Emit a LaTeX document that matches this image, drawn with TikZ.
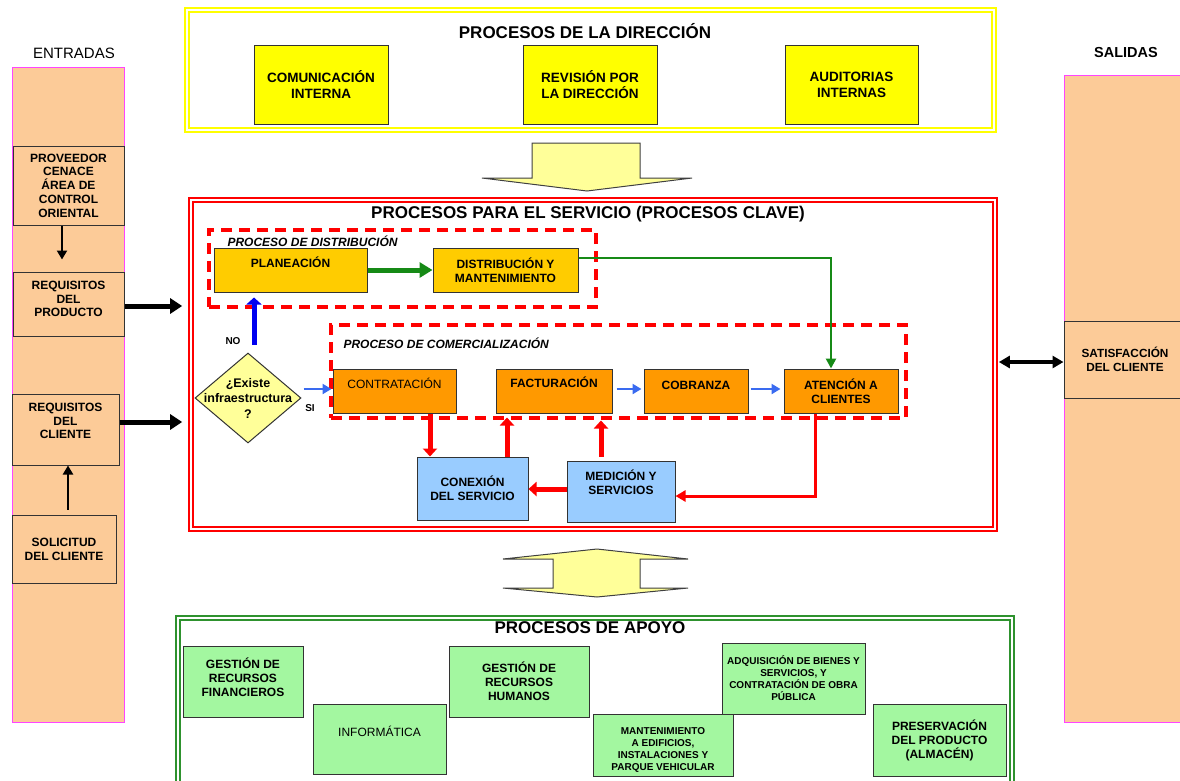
\documentclass[tikz,border=0pt]{standalone}
\usepackage{fontspec}
\setmainfont{Liberation Sans}
\usetikzlibrary{arrows.meta,shapes.geometric,calc}
\definecolor{peach}{HTML}{FCCB98}
\definecolor{pinkline}{HTML}{FF44FF}
\definecolor{ylw}{HTML}{FFFF00}
\definecolor{lylw}{HTML}{FFFF99}
\definecolor{gold}{HTML}{FFCC00}
\definecolor{orng}{HTML}{FF9900}
\definecolor{lblue}{HTML}{99CCFF}
\definecolor{lgreen}{HTML}{A3F7A0}
\definecolor{fgreen}{HTML}{2E922E}
\definecolor{agreen}{HTML}{168A16}
\definecolor{ablue}{HTML}{3A6BF0}
\definecolor{dblue}{HTML}{0000F0}
\definecolor{rred}{HTML}{FF0000}
\newcommand{\myfs}[2]{\fontsize{#1}{#2}\selectfont}
\begin{document}
\begin{tikzpicture}[x=1pt,y=-1pt,
  box/.style={rectangle, draw=black!80, line width=1pt, inner sep=0pt, align=center, text=black},
  frame/.style={rectangle, line width=1.7pt, double=white, double distance=2pt, inner sep=0pt},
  dashbox/.style={rectangle, draw=rred, line width=3.5pt, dash pattern=on 11pt off 7pt, inner sep=0pt},
  ttl/.style={font=\bfseries\myfs{17}{20}},
  tb/.style={font=\bfseries\myfs{13.5}{16}, align=center},
  te/.style={font=\bfseries\myfs{12}{13.8}, align=center},
  ts/.style={font=\bfseries\myfs{12}{14}, align=center},
  tr/.style={font=\myfs{12}{14}, align=center},
  tsm/.style={font=\bfseries\myfs{10}{12}, align=center},
  itl/.style={font=\bfseries\itshape\myfs{12}{14}, anchor=west},
  karr/.style={line width=5pt, -{Triangle[length=12pt,width=15pt]}},
  kthin/.style={line width=2.5pt, -{Triangle[length=9pt,width=10pt]}},
  kdbl/.style={line width=3.5pt, {Triangle[length=11pt,width=12pt]}-{Triangle[length=11pt,width=12pt]}},
  gthick/.style={agreen, line width=5pt, -{Triangle[length=13pt,width=15pt]}},
  gthin/.style={agreen, line width=2.8pt, -{Triangle[length=10pt,width=10pt]}},
  bthick/.style={dblue, line width=5pt, -{Triangle[length=7pt,width=15pt]}},
  barrow/.style={ablue, line width=2.5pt, -{Triangle[length=9pt,width=10pt]}},
  rarr/.style={rred, line width=5pt, -{Triangle[length=8pt,width=14pt]}},
  rarr2/.style={rred, line width=3pt, -{Triangle[length=10pt,width=11pt]}},
  blk/.style={draw=black!75, line width=1pt, fill=lylw, line join=miter}
]
\useasboundingbox (0,0) rectangle (1180,780);

% ---------- ENTRADAS ----------
\node[font=\myfs{15}{17}] (entl) at (74,53) {ENTRADAS};
\node[rectangle, draw=pinkline, line width=1pt, fill=peach, minimum width=112pt, minimum height=655pt] (entcol) at (68,394.5) {};
\node[box, fill=peach, te, minimum width=111pt, minimum height=79pt] (prov) at (68.5,185.5) {PROVEEDOR\\CENACE\\ÁREA DE\\CONTROL\\ORIENTAL};
\node[box, fill=peach, minimum width=111pt, minimum height=64pt] (reqp) at (68.5,304) {};
\node[te] (reqpT) at ($(reqp)+(0,-5)$) {REQUISITOS\\DEL\\PRODUCTO};
\node[box, fill=peach, minimum width=107pt, minimum height=71pt] (reqc) at (65.5,429.5) {};
\node[te] (reqcT) at ($(reqc)+(0,-8.5)$) {REQUISITOS\\DEL\\CLIENTE};
\node[box, fill=peach, te, minimum width=104pt, minimum height=68pt] (sol) at (64,549) {SOLICITUD\\DEL CLIENTE};

% ---------- SALIDAS ----------
\node[font=\bfseries\myfs{14.5}{17}] (sall) at (1126,53) {SALIDAS};
\node[rectangle, draw=pinkline, line width=1pt, fill=peach, minimum width=122pt, minimum height=647pt] (salcol) at (1125,398.5) {};
\node[box, fill=peach, font=\bfseries\myfs{11.8}{13.5}, minimum width=122pt, minimum height=77pt] (sat) at (1125,359.5) {SATISFACCIÓN\\DEL CLIENTE};

% ---------- DIRECCION ----------
\node[frame, draw=ylw, minimum width=807pt, minimum height=120pt] (dirF) at (590.5,70) {};
\node[ttl] (dirT) at (585,31) {PROCESOS DE LA DIRECCIÓN};
\node[box, fill=ylw, tb, minimum width=134pt, minimum height=79pt] (com) at (321,84.5) {COMUNICACIÓN\\INTERNA};
\node[box, fill=ylw, tb, minimum width=134pt, minimum height=79pt] (rev) at (590,84.5) {REVISIÓN POR\\LA DIRECCIÓN};
\node[box, fill=ylw, tb, minimum width=133pt, minimum height=79pt] (aud) at (851.5,84.5) {AUDITORIAS\\INTERNAS};

\draw[blk] (532,143) -- (640,143) -- (640,178) -- (692,178) -- (587,191) -- (482,178) -- (532,178) -- cycle;

% ---------- SERVICIO ----------
\node[frame, draw=rred, minimum width=804pt, minimum height=329pt] (svc) at (593,364.5) {};
\node[ttl] (svcT) at (588,214) {PROCESOS PARA EL SERVICIO (PROCESOS CLAVE)};

\node[dashbox, minimum width=387pt, minimum height=77pt] (distD) at (402.5,268.5) {};
\node[itl] (distL) at (224,241) {PROCESO DE DISTRIBUCIÓN};
\node[box, fill=gold, minimum width=153pt, minimum height=44pt] (plan) at (290.5,270) {};
\node[ts] (planT) at (290.5,262) {PLANEACIÓN};
\node[box, fill=gold, ts, minimum width=145pt, minimum height=44pt] (dist) at (505.5,270) {DISTRIBUCIÓN Y\\MANTENIMIENTO};

\node[dashbox, minimum width=575pt, minimum height=93pt] (comD) at (618.5,371.5) {};
\node[itl] (comL) at (340,343) {PROCESO DE COMERCIALIZACIÓN};
\node[box, fill=orng, minimum width=123pt, minimum height=44pt] (contr) at (394.5,391) {};
\node[tr] (contrT) at (394.5,383) {CONTRATACIÓN};
\node[box, fill=orng, minimum width=116pt, minimum height=44pt] (fact) at (554,391) {};
\node[ts] (factT) at (554,382) {FACTURACIÓN};
\node[box, fill=orng, minimum width=104pt, minimum height=44pt] (cob) at (696,391) {};
\node[ts] (cobT) at (696,385) {COBRANZA};
\node[box, fill=orng, ts, minimum width=114pt, minimum height=44pt] (aten) at (841,391) {ATENCIÓN A\\CLIENTES};

\node[box, fill=lblue, ts, minimum width=111pt, minimum height=63pt] (conx) at (472.5,488.5) {CONEXIÓN\\DEL SERVICIO};
\node[box, fill=lblue, minimum width=108pt, minimum height=61pt] (med) at (621,491.5) {};
\node[ts] (medT) at (621,482.5) {MEDICIÓN Y\\SERVICIOS};

\node[diamond, draw=black!80, fill=lylw, line width=1pt, minimum width=106pt, minimum height=90pt, inner sep=0pt] (dia) at (248,398) {};
\node[font=\bfseries\myfs{12.5}{15.5}, align=center] (diaT) at (248,398) {¿Existe\\infraestructura\\?};
\node[font=\bfseries\myfs{10}{12}] (noL) at (233,341) {NO};
\node[font=\bfseries\myfs{10}{12}] (siL) at (310,408) {SI};

% arrows in servicio
\draw[gthick] (plan.east) -- (dist.west);
\draw[gthin] ($(dist.east)+(0,-12)$) -| ($(aten.north)+(-10,0)$);
\draw[bthick] ($(dia.north)+(6,-8)$) -- ($(plan.south)+(-36.5,5)$);
\draw[barrow] ($(dia.east)+(2,-9)$) -- ($(contr.west)+(-1,-2)$);
\draw[barrow] ($(fact.east)+(4,-2)$) -- ($(cob.west)+(-2,-2)$);
\draw[barrow] ($(cob.east)+(2,-2)$) -- ($(aten.west)+(-3,-2)$);
\draw[rarr] ($(contr.south)+(35.5,0)$) -- ($(conx.north)+(-42.5,0)$);
\draw[rarr] ($(conx.north)+(34.5,0)$) -- ($(fact.south)+(-47,4)$);
\draw[rarr] ($(med.north)+(-20,-4)$) -- ($(fact.south)+(47,7)$);
\draw[rarr2] ($(aten.south)+(-26,0)$) |- ($(med.east)+(0,4.5)$);
\draw[rarr] ($(med.west)+(0,-2.5)$) -- ($(conx.east)+(0,0.5)$);

% entradas / salidas arrows
\draw[kthin] ($(prov.south)+(-6.5,0)$) -- ($(reqp.north)+(-6.5,-12)$);
\draw[kthin] ($(sol.north)+(4,-5)$) -- ($(reqc.south)+(2.5,0)$);
\draw[karr] ($(reqp.east)+(0,2)$) -- ($(reqp.east -| svc.west)+(-8,2)$);
\draw[karr] ($(reqc.east)+(0,-7.5)$) -- ($(reqc.east -| svc.west)+(-8,-7.5)$);
\draw[kdbl] ($(svc.east)+(3,-2.5)$) -- ($(sat.west)+(0,2.5)$);

% up-down block arrow
\draw[blk] (597,549) -- (688,559) -- (640,559) -- (640,588) -- (688,588) -- (597,597) -- (503,588) -- (553,588) -- (553,559) -- (503,559) -- cycle;

% ---------- APOYO ----------
\node[frame, draw=fgreen, minimum width=834pt, minimum height=182pt] (apo) at (595,709) {};
\node[ttl] (apoT) at (590,628) {PROCESOS DE APOYO};
\node[box, fill=lgreen, minimum width=120pt, minimum height=71pt] (fin) at (243,681.5) {};
\node[te] (finT) at (243,677) {GESTIÓN DE\\RECURSOS\\FINANCIEROS};
\node[box, fill=lgreen, minimum width=133pt, minimum height=70pt] (inf) at (379.5,739) {};
\node[tr] (infT) at (379.5,731) {INFORMÁTICA};
\node[box, fill=lgreen, te, minimum width=140pt, minimum height=71pt] (hum) at (519,681.5) {GESTIÓN DE\\RECURSOS\\HUMANOS};
\node[box, fill=lgreen, minimum width=140pt, minimum height=62pt] (mant) at (663,745) {};
\node[tsm] (mantT) at (663,750) {MANTENIMIENTO\\A EDIFICIOS,\\INSTALACIONES Y\\PARQUE VEHICULAR};
\node[box, fill=lgreen, tsm, minimum width=143pt, minimum height=71pt] (adq) at (793.5,678.5) {ADQUISICIÓN DE BIENES Y\\SERVICIOS, Y\\CONTRATACIÓN DE OBRA\\PÚBLICA};
\node[box, fill=lgreen, font=\bfseries\myfs{12}{14}, minimum width=133pt, minimum height=72pt] (pres) at (939.5,740) {PRESERVACIÓN\\DEL PRODUCTO\\(ALMACÉN)};
\end{tikzpicture}
\end{document}
